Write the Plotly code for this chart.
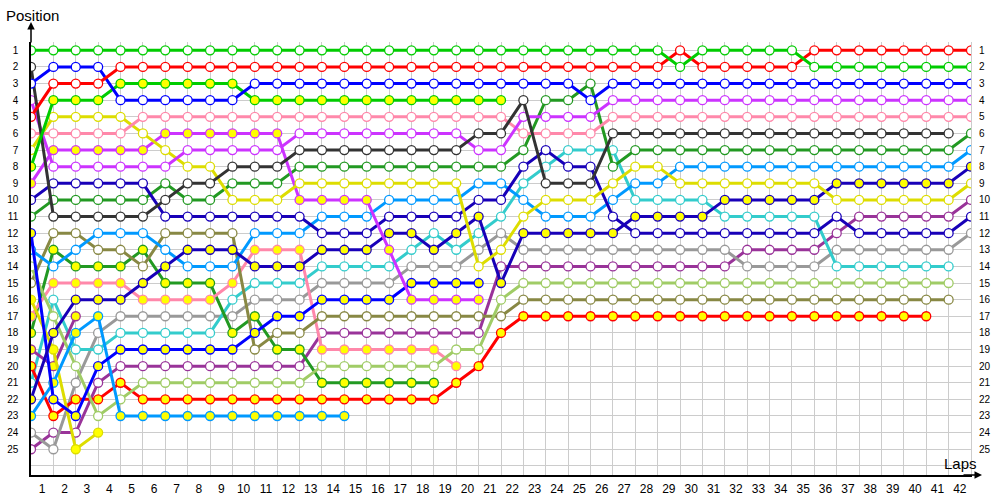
import plotly.graph_objects as go

# ---- data: position of each car at the end of each lap (lap 0 = grid) ----
laps = list(range(0, 43))
lap_labels = [str(i) for i in range(1, 43)]
pos_labels = [str(i) for i in range(1, 26)]

green_a = [1,1,1,1,1,1,1,1,1,1, 1,1,1,1,1,1,1,1,1,1, 1,1,1,1,1,1,1,1,1,2, 1,1,1,1,1,2,2,2,2,2, 2,2,2]
red_a = [5,3,3,3,2,2,2,2,2,2, 2,2,2,2,2,2,2,2,2,2, 2,2,2,2,2,2,2,2,2,1, 2,2,2,2,2,1,1,1,1,1, 1,1,1]
blue_a = [3,2,2,2,4,4,4,4,4,4, 3,3,3,3,3,3,3,3,3,3, 3,3,3,3,3,4,3,3,3,3, 3,3,3,3,3,3,3,3,3,3, 3,3,3]
green_b = [8,4,4,4,3,3,3,3,3,3, 4,4,4,4,4,4,4,4,4,4, 4,4]
dark_gray = [2,11,11,11,11,11,10,9,9,8, 8,8,7,7,7,7,7,7,7,7, 6,6,4,9,9,9,6,6,6,6, 6,6,6,6,6,6,6,6,6,6, 6,6]
violet_a = [4,8,8,8,8,8,8,7,7,7, 7,7,6,6,6,6,6,6,6,6, 7,7,5,5,5,5,4,4,4,4, 4,4,4,4,4,4,4,4,4,4, 4,4,4]
pink_a = [6,6,6,6,6,5,5,5,5,5, 5,5,5,5,5,5,5,5,5,5, 5,5,6,6,6,6,5,5,5,5, 5,5,5,5,5,5,5,5,5,5, 5,5,5]
yellow_a = [7,5,5,5,5,6,7,8,8,10, 10,10,9,9,9,9,9,9,9,9, 14,13,11,10,10,10,9,8,8,9, 9,9,9,9,9,9,10,10,10,10, 10,10,9]
violet_b = [9,7,7,7,7,7,6,6,6,6, 6,6,10,10,10,10,13,16,16,16, 16]
navy_a = [10,9,9,9,9,9,11,11,11,11, 11,11,11,12,12,12,11,11,11,11, 10,10,8,7,8,8,11,12,12,12, 12,12,12,12,12,12,11,12,12,12, 12,12,11]
dark_green_a = [11,10,10,10,10,10,9,10,10,9, 9,9,8,8,8,8,8,8,8,8, 8,8,7,4,4,3,8,7,7,7, 7,7,7,7,7,7,7,7,7,7, 7,7,6]
navy_b = [22,18,16,16,16,15,14,13,13,13, 14,14,14,13,13,13,12,12,13,12, 11,15,12,12,12,12,12,11,11,11, 11,10,10,10,10,10,9,9,9,9, 9,9,8]
blue_b = [12,22,23,20,19,19,19,19,19,19, 18,17,17,16,16,16,16,15,15,15, 15]
light_blue_a = [13,14,13,12,12,12,13,14,14,14, 12,12,12,11,11,11,10,10,10,10, 9,9,10,11,11,11,10,9,9,8, 8,8,8,8,8,8,8,8,8,8, 8,8,7]
light_blue_b = [23,21,18,17,23,23,23,23,23,23, 23,23,23,23,23]
light_green = [14,17,20,23,22,21,21,21,21,21, 21,21,21,20,20,20,20,20,20,19, 19,16,15,15,15,15,15,15,15,15, 15,15,15,15,15,15,15,15,15,15, 15,15]
olive = [15,12,12,13,13,14,12,12,12,12, 19,18,18,17,17,17,17,17,17,17, 17,17,16,16,16,16,16,16,16,16, 16,16,16,16,16,16,16,16,16,16, 16,16]
yellow_b = [16,19,25,24]
pink_b = [17,15,15,15,15,16,16,16,16,15, 13,13,13,19,19,19,19,19,19,20]
dark_green_b = [18,13,14,14,14,13,15,15,15,18, 17,19,19,21,21,21,21,21,21]
plum_a = [19,20,17]
red_b = [20,23,22,22,21,22,22,22,22,22, 22,22,22,22,22,22,22,22,22,21, 20,18,17,17,17,17,17,17,17,17, 17,17,17,17,17,17,17,17,17,17, 17]
teal = [21,16,19,19,18,18,18,18,18,16, 15,15,15,14,14,14,14,13,12,13, 12,11,9,8,7,7,7,10,10,10, 10,11,11,11,11,11,14,14,14,14, 14,14]
gray = [24,25,21,18,17,17,17,17,17,17, 16,16,16,15,15,15,15,14,14,14, 13,12,13,13,13,13,13,13,13,13, 13,13,14,14,14,14,13,13,13,13, 13,13,12]
plum_b = [25,24,24,21,20,20,20,20,20,20, 20,20,20,18,18,18,18,18,18,18, 18,14,14,14,14,14,14,14,14,14, 14,14,13,13,13,13,12,11,11,11, 11,11,10]

# (series, line colour, marker fill)
WHITE = "#FFFFFF"
YEL = "#FFFF00"
series = [
    (plum_b, "#993399", WHITE),
    (gray, "#999999", WHITE),
    (teal, "#33CCCC", WHITE),
    (red_b, "#FF0000", YEL),
    (plum_a, "#993399", YEL),
    (dark_green_b, "#229922", YEL),
    (pink_b, "#FF88AA", YEL),
    (yellow_b, "#DDDD00", YEL),
    (olive, "#888844", WHITE),
    (light_green, "#A0CC66", WHITE),
    (light_blue_b, "#0099FF", YEL),
    (light_blue_a, "#0099FF", WHITE),
    (blue_b, "#0000FF", YEL),
    (navy_b, "#1800B8", YEL),
    (dark_green_a, "#229922", WHITE),
    (navy_a, "#1800B8", WHITE),
    (violet_b, "#CC33FF", YEL),
    (yellow_a, "#DDDD00", WHITE),
    (pink_a, "#FF88AA", WHITE),
    (violet_a, "#CC33FF", WHITE),
    (dark_gray, "#333333", WHITE),
    (green_b, "#00CC00", YEL),
    (blue_a, "#0000FF", WHITE),
    (red_a, "#FF0000", WHITE),
    (green_a, "#00CC00", WHITE),
]

fig = go.Figure()
for ys, col, fill in series:
    fig.add_trace(go.Scatter(
        x=laps[:len(ys)], y=ys, mode="lines+markers",
        line=dict(color=col, width=3),
        marker=dict(symbol="circle", size=9, color=fill, line=dict(color=col, width=1.3)),
        showlegend=False, hoverinfo="skip",
    ))

# invisible trace to carry the right-hand position axis
fig.add_trace(go.Scatter(x=[0], y=[1], yaxis="y2", mode="markers",
                         marker=dict(opacity=0), showlegend=False, hoverinfo="skip"))

tick_font = dict(family="Liberation Sans, Arial, sans-serif", size=10, color="#000000")
fig.update_layout(
    width=1000, height=500,
    margin=dict(l=31, r=29, t=42, b=25, autoexpand=False),
    paper_bgcolor="white", plot_bgcolor="white",
    font=dict(family="Liberation Sans, Arial, sans-serif", color="#000000"),
    xaxis=dict(
        range=[0, 42], tickmode="array", automargin=False,
        tickvals=[i - 0.5 for i in range(1, 43)], ticktext=lap_labels,
        tickfont=dict(family="Liberation Sans, Arial, sans-serif", size=12, color="#000000"),
        showgrid=False, zeroline=False, ticks="", ticklabelstandoff=2,
        showline=True, linecolor="#000000", linewidth=1.5,
        minor=dict(tickmode="array", tickvals=laps, showgrid=True,
                   gridcolor="#CCCCCC", gridwidth=1, ticks=""),
    ),
    yaxis=dict(
        range=[26.55, 0.5], tickmode="array", automargin=False,
        tickvals=list(range(1, 26)), ticktext=pos_labels, tickfont=tick_font,
        showgrid=False, zeroline=False, ticks="", ticklabelstandoff=9,
        showline=True, linecolor="#000000", linewidth=1.5,
        minor=dict(tickmode="array", tickvals=list(range(1, 27)), showgrid=True,
                   gridcolor="#CCCCCC", gridwidth=1, ticks=""),
    ),
    yaxis2=dict(
        overlaying="y", side="right", range=[26.55, 0.5], tickmode="array", automargin=False,
        tickvals=list(range(1, 26)), ticktext=pos_labels, tickfont=tick_font,
        showgrid=False, zeroline=False, ticks="", ticklabelstandoff=5,
        showline=True, linecolor="#CCCCCC", linewidth=1,
    ),
)

# axis arrows and titles
fig.add_annotation(x=(982 - 31) / 940, y=0, xref="paper", yref="paper", text="",
                   showarrow=True, ax=-20, ay=0, arrowhead=2, arrowsize=1,
                   arrowwidth=1.5, arrowcolor="#000000")
fig.add_annotation(x=0, y=(475 - 22) / 433, xref="paper", yref="paper", text="",
                   showarrow=True, ax=0, ay=22, arrowhead=2, arrowsize=1,
                   arrowwidth=1.5, arrowcolor="#000000")
fig.add_annotation(x=(4 - 31) / 940, y=(475 - 15) / 433, xref="paper", yref="paper",
                   text="Position", showarrow=False, xanchor="left", yanchor="middle",
                   font=dict(family="Liberation Sans, Arial, sans-serif", size=15, color="#000000"))
fig.add_annotation(x=(942 - 31) / 940, y=(475 - 463) / 433, xref="paper", yref="paper",
                   text="Laps", showarrow=False, xanchor="left", yanchor="middle",
                   font=dict(family="Liberation Sans, Arial, sans-serif", size=15, color="#000000"))

fig.write_html("out.html", config={"displayModeBar": False},
               post_script="document.body.style.margin='0';document.body.style.padding='0';")
